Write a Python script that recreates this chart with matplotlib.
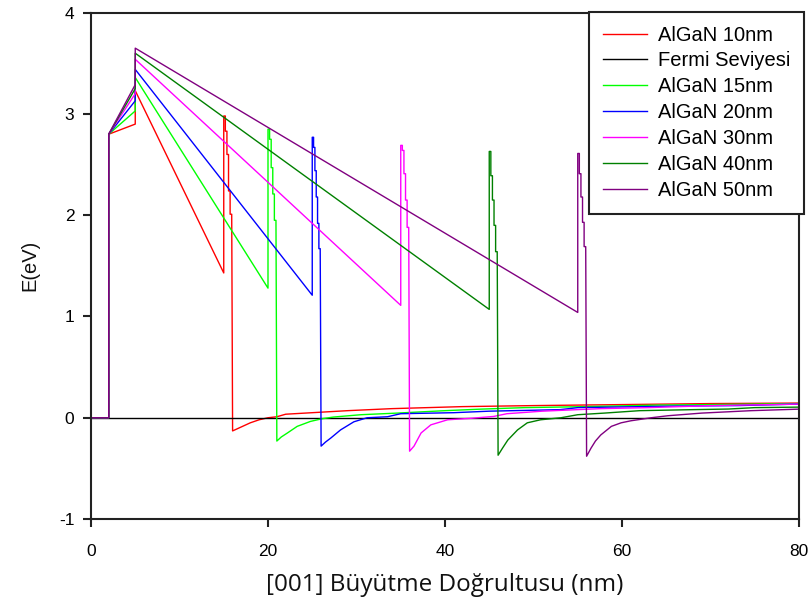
import matplotlib
matplotlib.use("Agg")
import matplotlib.pyplot as plt
import numpy as np

plt.rcParams["axes.unicode_minus"] = False

# ---------------- data ----------------
labels = ["AlGaN 10nm", "AlGaN 15nm", "AlGaN 20nm", "AlGaN 30nm", "AlGaN 40nm", "AlGaN 50nm"]
colors = ["#ff0000", "#00ff00", "#0000ff", "#ff00ff", "#008000", "#800080"]
thickness = [10, 15, 20, 30, 40, 50]          # nm

cap_start = 2.0      # nm, start of barrier region
cap_end = 5.0        # nm
base_level = 2.8     # eV at x = 2
pre_peak = [2.90, 3.03, 3.13, 3.20, 3.25, 3.29]   # eV at x = 5 (before jump)
peak = [3.23, 3.36, 3.44, 3.54, 3.60, 3.65]       # eV at x = 5 (after jump)
bottom = [1.43, 1.28, 1.21, 1.11, 1.07, 1.04]     # eV at x = 5 + d

spike_levels = [
    [2.98, 2.83, 2.60, 2.24, 2.01],
    [2.85, 2.75, 2.47, 2.21, 1.95],
    [2.77, 2.67, 2.44, 2.18, 1.92, 1.67],
    [2.69, 2.64, 2.41, 2.15, 1.88],
    [2.63, 2.39, 2.15, 1.90, 1.64],
    [2.61, 2.41, 2.18, 1.93, 1.69],
]
well_min = [-0.13, -0.23, -0.28, -0.33, -0.37, -0.38]   # eV at x = 6 + d

tail_x = [
    [16.5, 17, 18, 19, 20, 21, 22, 25, 29, 34, 42, 50, 60, 70, 80],
    [21.5, 22.2, 23.3, 24.8, 26.1, 27.4, 30.5, 34.6, 40, 44, 49, 56, 64, 70, 80],
    [26.5, 27.1, 28.2, 29.7, 31.2, 33.5, 35, 41, 45, 53, 55, 66, 73, 80],
    [36.5, 37.3, 38.4, 40.3, 43, 45.5, 47, 51, 57.6, 63, 70, 77, 80],
    [46.5, 47.1, 48.2, 49.3, 50.8, 53.1, 55, 58, 62, 68, 72, 75, 80],
    [56.5, 57, 57.6, 58.8, 59.9, 61, 63.3, 65.2, 69, 74.6, 80],
]
tail_y = [
    [-0.11, -0.09, -0.05, -0.02, 0.0, 0.01, 0.035, 0.05, 0.07, 0.09, 0.11, 0.12, 0.13, 0.14, 0.145],
    [-0.19, -0.15, -0.085, -0.036, -0.01, 0.007, 0.03, 0.046, 0.07, 0.085, 0.10, 0.11, 0.125, 0.13, 0.14],
    [-0.24, -0.20, -0.12, -0.04, 0.0, 0.01, 0.04, 0.05, 0.065, 0.08, 0.10, 0.115, 0.12, 0.135],
    [-0.28, -0.15, -0.07, -0.02, -0.005, 0.013, 0.04, 0.065, 0.09, 0.10, 0.12, 0.13, 0.135],
    [-0.30, -0.22, -0.12, -0.05, -0.02, 0.0, 0.03, 0.046, 0.07, 0.08, 0.086, 0.10, 0.105],
    [-0.30, -0.23, -0.17, -0.085, -0.05, -0.03, 0.0, 0.02, 0.046, 0.07, 0.085],
]

fermi_x = [0, 80]
fermi_y = [0, 0]

# ---------------- build curves ----------------
def build_curve(i):
    d = thickness[i]
    xs = [0.0, cap_start, cap_start, cap_end, cap_end, cap_end + d]
    ys = [0.0, 0.0, base_level, pre_peak[i], peak[i], bottom[i]]
    lv = spike_levels[i]
    n = len(lv)
    step = 0.9 / n
    for k, v in enumerate(lv):
        xs += [cap_end + d + k * step, cap_end + d + (k + 1) * step]
        ys += [v, v]
    xs += [cap_end + d + 1.0]
    ys += [well_min[i]]
    xs += tail_x[i]
    ys += tail_y[i]
    return np.array(xs), np.array(ys)

# ---------------- figure ----------------
fig = plt.figure(figsize=(8.11, 6.14), dpi=100)
ax = fig.add_axes([0.1122, 0.1547, 0.8730, 0.8246])

lw = 1.0
handles = []
xr, yr = build_curve(0)
h, = ax.plot(xr, yr, color=colors[0], lw=lw, label=labels[0])
handles.append(h)
h, = ax.plot(fermi_x, fermi_y, color="black", lw=lw, label="Fermi Seviyesi")
handles.append(h)
for i in range(1, len(labels)):
    xs, ys = build_curve(i)
    h, = ax.plot(xs, ys, color=colors[i], lw=lw, label=labels[i])
    handles.append(h)

ax.set_xlim(0, 80)
ax.set_ylim(-1, 4)
ax.set_xticks([0, 20, 40, 60, 80])
ax.set_yticks([-1, 0, 1, 2, 3, 4])

for s in ax.spines.values():
    s.set_linewidth(1.5)
    s.set_color("#222222")
ax.tick_params(direction="out", length=6, width=1.5, color="#222222",
               labelsize=12.5, pad=6)
for t in ax.get_xticklabels() + ax.get_yticklabels():
    t.set_family("Liberation Sans")
ax.tick_params(axis="x", pad=12)

ax.set_xlabel("[001] Büyütme Doğrultusu (nm)", fontfamily="Open Sans",
              fontsize=17.5, labelpad=10, color="#111111")
ax.set_ylabel("E(eV)", fontfamily="Liberation Sans", fontsize=14.5,
              labelpad=14, color="#111111")

leg = fig.legend(handles=handles, loc="upper left",
                 bbox_to_anchor=(589 / 811, 1 - 11.7 / 614),
                 bbox_transform=fig.transFigure,
                 prop={"family": "Liberation Sans", "size": 14.5},
                 fancybox=False, framealpha=1, edgecolor="#222222",
                 handlelength=2.2, handletextpad=0.53, labelspacing=0.34,
                 borderpad=0.69, borderaxespad=0)
leg.get_frame().set_linewidth(1.5)
leg.set_zorder(10)

fig.savefig("out.png", dpi=100)
